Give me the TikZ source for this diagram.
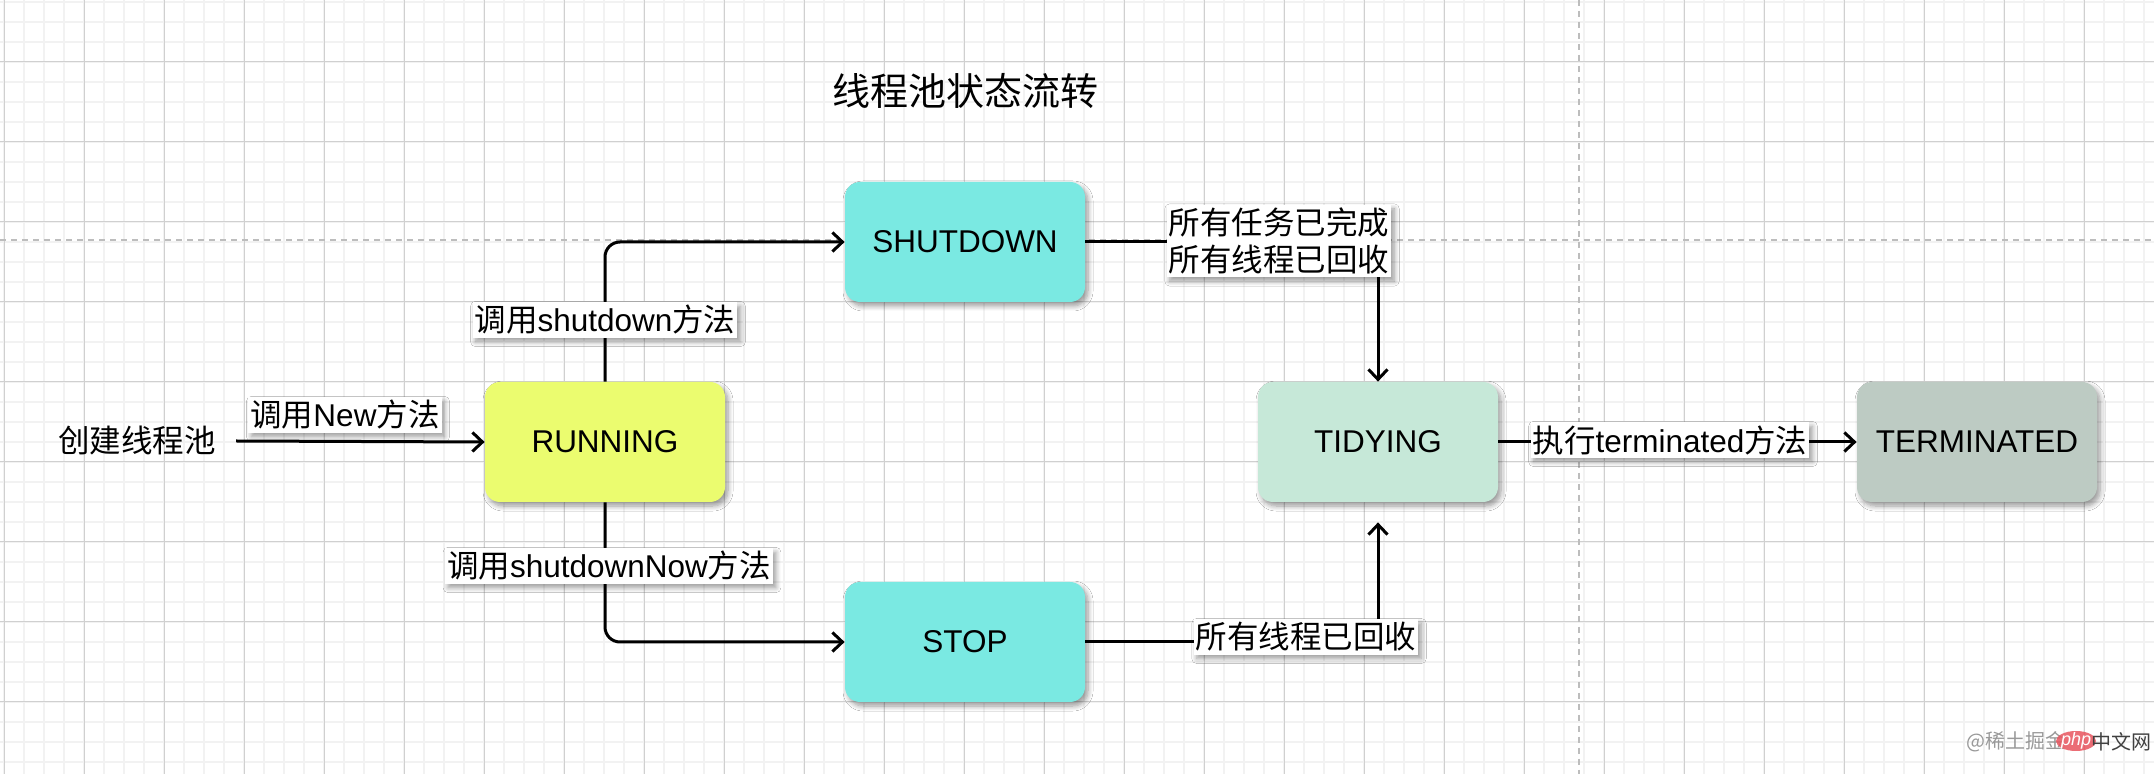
\documentclass[tikz,border=0pt]{standalone}
\usepackage{fontspec}
\setmainfont{Liberation Sans}
\newfontfamily\cjkfont{Noto Sans CJK SC}
\newcommand\zhs[1]{{\cjkfont #1}}
\usetikzlibrary{arrows.meta,shadows.blur,shapes.geometric}
\definecolor{runfill}{HTML}{EBFC6F}
\definecolor{shutfill}{HTML}{7AE9E2}
\definecolor{tidyfill}{HTML}{C6E8D8}
\definecolor{termfill}{HTML}{BDCBC3}
\definecolor{minorgrid}{HTML}{F2F2F2}
\definecolor{majorgrid}{HTML}{D0D0D0}
\definecolor{dashgray}{HTML}{BDBDBD}
\definecolor{phpred}{HTML}{E8545E}
\begin{document}
\begin{tikzpicture}[x=0.5pt,y=-0.5pt,
  softshadow/.style={blur shadow={shadow xshift=1.5pt, shadow yshift=-2pt, shadow blur radius=2.5pt, shadow opacity=40, shadow blur steps=8}},
  statebox/.style={rounded corners=7.5pt, minimum width=120pt, minimum height=60pt, inner sep=0pt, font=\fontsize{15.75}{18}\selectfont, text=black, softshadow},
  lbl/.style={fill=white, inner xsep=1pt, inner ysep=1.5pt, font=\fontsize{15.75}{18.5}\selectfont, text=black, align=center, softshadow},
  plaintext/.style={inner ysep=2pt, inner xsep=10pt, font=\fontsize{15.75}{18}\selectfont, text=black},
  conn/.style={line width=1.5pt, draw=black, -{Straight Barb[length=5pt,width=9.5pt]}},
  mgrid/.style={draw=minorgrid, line width=1pt},
  Mgrid/.style={draw=majorgrid, line width=0.5pt},
  pagedash/.style={draw=dashgray, line width=0.75pt, dash pattern=on 3pt off 2.5pt}
]
\useasboundingbox (0,0) rectangle (2154,774);
\fill[white] (0,0) rectangle (2154,774);
% grid
\foreach \i in {0,...,107} \draw[mgrid] ({4.3+20*\i},0) -- ++(0,774);
\foreach \j in {0,...,38} \draw[mgrid] (0,{1.7+20*\j}) -- ++(2154,0);
\foreach \i in {0,...,26} \draw[Mgrid] ({4.3+80*\i},0) -- ++(0,774);
\foreach \j in {0,...,9} \draw[Mgrid] (0,{61.7+80*\j}) -- ++(2154,0);
% page break lines
\draw[pagedash] (0,240) -- (2154,240);
\draw[pagedash] (1579,0) -- (1579,774);

% title
\node[font=\fontsize{19}{22}\selectfont] (title) at (965,91) {\zhs{线程池状态流转}};

% states
\node[statebox, fill=runfill] (run) at (605,442) {RUNNING};
\node[statebox, fill=shutfill] (shut) at (965,242) {SHUTDOWN};
\node[statebox, fill=shutfill] (stop) at (965,642) {STOP};
\node[statebox, fill=tidyfill] (tidy) at (1378,442) {TIDYING};
\node[statebox, fill=termfill] (term) at (1977,442) {TERMINATED};
\node[plaintext] (start) at (137,441) {\zhs{创建线程池}};

% connectors
\draw[conn] (start.east) -- (run.west);
\draw[conn, rounded corners=7.5pt] (run.north) |- (shut.west);
\draw[conn, rounded corners=7.5pt] (run.south) |- (stop.west);
\draw[conn] (shut.east) -| (tidy.north);
\draw[conn, shorten >=10pt] (stop.east) -| (tidy.south);
\draw[conn] (tidy.east) -- (term.west);

% labels
\node[lbl] (lnew) at (345,415) {\zhs{调用}New\zhs{方法}};
\node[lbl] (lshut) at (605,320) {\zhs{调用}shutdown\zhs{方法}};
\node[lbl] (lnow) at (609,566) {\zhs{调用}shutdownNow\zhs{方法}};
\node[lbl] (ldone) at (1279,241) {\zhs{所有任务已完成}\\\zhs{所有线程已回收}};
\node[lbl] (lrec) at (1306,637) {\zhs{所有线程已回收}};
\node[lbl] (lterm) at (1670,440) {\zhs{执行}terminated\zhs{方法}};

% watermark
\node[font=\fontsize{10}{12}\selectfont, text=gray!80, inner sep=0pt] (wm1) at (2016,742) {\zhs{@稀土掘金}};
\node[ellipse, fill=phpred, opacity=0.85, minimum width=20pt, minimum height=10pt, inner sep=0pt] (wm2) at (2076,741) {};
\node[font=\fontsize{9}{10}\selectfont\itshape, text=white, inner sep=0pt] (wm2t) at (wm2) {php};
\node[font=\fontsize{10}{12}\selectfont, text=black!75, inner sep=0pt] (wm3) at (2121,742) {\zhs{中文网}};
\end{tikzpicture}
\end{document}
